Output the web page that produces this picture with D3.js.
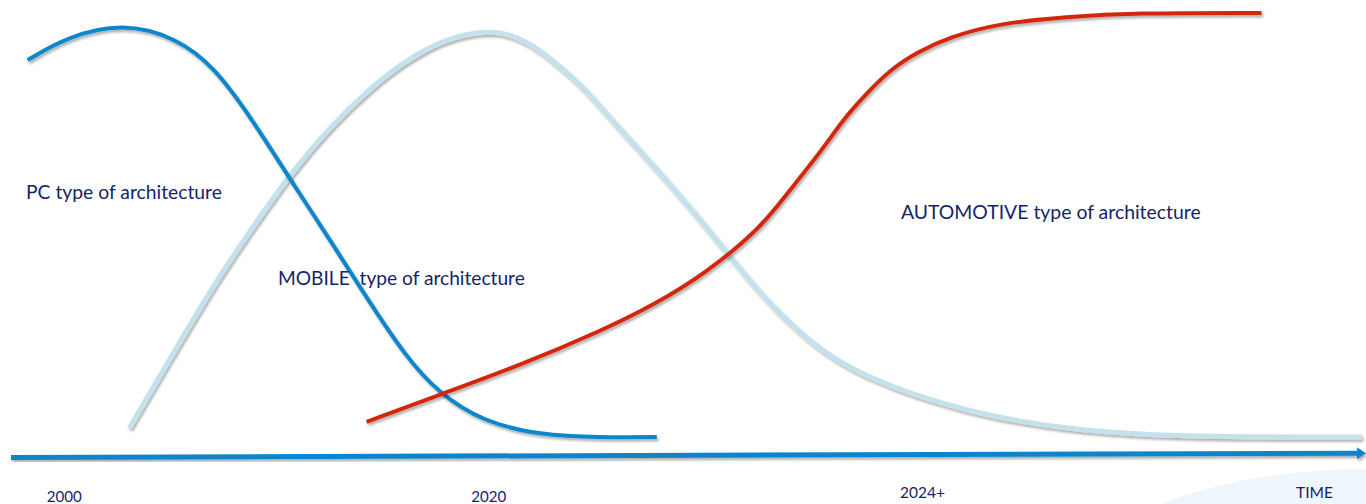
<!DOCTYPE html>
<html>
<head>
<meta charset="utf-8">
<script src="https://cdn.jsdelivr.net/npm/d3@7"></script>
<style>
  html, body { margin: 0; padding: 0; background: #ffffff; overflow: hidden; }
  svg { display: block; }
  text { font-family: Lato, "Open Sans", sans-serif; white-space: pre; }
</style>
</head>
<body>
<svg id="chart" width="1366" height="504"></svg>
<script>
// ---- data (time index 0..100, adoption 0..100) ----
const pcSeries = [
  [1.3, 89.2], [4.2, 94.4], [8.3, 97.6], [12.3, 94.2], [15.1, 87.6], [17.9, 75.7],
  [20.7, 62.2], [23.6, 48.8], [26.4, 35.3], [29.2, 22.5], [31.6, 14.4], [34.9, 7.9],
  [39.1, 4.9], [43.5, 4.4], [47.7, 4.5]
];
const mobileSeries = [
  [8.8, 6.5], [12.3, 24.7], [15.1, 39.1], [17.9, 51.7], [20.7, 63.8], [23.6, 74.2],
  [26.4, 82.5], [29.2, 89.2], [32.0, 93.7], [33.6, 95.0], [35.4, 95.7], [37.1, 94.9],
  [39.1, 91.5], [40.6, 87.6], [42.3, 83.1], [44.2, 76.4], [47.7, 64.7], [51.3, 52.1],
  [55.2, 36.9], [59.0, 25.6], [62.8, 18.0], [70.6, 9.9], [78.2, 6.1], [85.9, 4.5], [99.7, 4.5]
];
const autoSeries = [
  [26.3, 7.9], [31.6, 13.9], [37.7, 20.7], [43.7, 28.5], [47.5, 34.2], [51.3, 41.3],
  [55.2, 51.0], [57.1, 58.4], [60.0, 69.4], [61.4, 75.7], [63.2, 81.8], [64.9, 87.0],
  [66.9, 91.0], [69.3, 94.4], [73.0, 97.5], [77.9, 98.9], [82.8, 99.8], [92.3, 99.8]
];
const seriesNames = ["PC type of architecture", "MOBILE  type of architecture", "AUTOMOTIVE type of architecture"];
const tickLabels = ["2000", "2020", "2024+", "TIME"];
const tickValues = [4.0, 35.3, 67.3, 96.2];

// ---- layout ----
const W = 1366, H = 504;
const svg = d3.select("#chart");
const x = d3.scaleLinear().domain([0, 100]).range([10, 1366]);
const y = d3.scaleLinear().domain([0, 100]).range([457, 12]);

const defs = svg.append("defs");
const f = defs.append("filter").attr("id", "shadow")
  .attr("x", "-5%").attr("y", "-10%").attr("width", "110%").attr("height", "130%");
f.append("feDropShadow").attr("dx", 1.5).attr("dy", 2.5).attr("stdDeviation", 1.3)
  .attr("flood-color", "#000").attr("flood-opacity", 0.3);

// pale decorative blob bottom-right
svg.append("path")
  .attr("d", `M1160,${H} Q1250,470 ${W},469 L${W},${H} Z`)
  .attr("fill", "#eef6fc");

const line = d3.line().x(d => x(d[0])).y(d => y(d[1])).curve(d3.curveBasis);

const series = [
  { data: mobileSeries, color: "#c4e2eb", width: 5 },
  { data: pcSeries, color: "#0a86cc", width: 4 },
  { data: autoSeries, color: "#d4260f", width: 4 }
];
series.forEach(s => {
  svg.append("path").datum(s.data)
    .attr("d", line)
    .attr("fill", "none")
    .attr("stroke", s.color)
    .attr("stroke-width", s.width)
    .attr("filter", "url(#shadow)");
});

// time axis with arrow
const axisG = svg.append("g").attr("filter", "url(#shadow)");
axisG.append("line")
  .attr("x1", x(0) + 1).attr("y1", y(-0.1))
  .attr("x2", x(100) - 6).attr("y2", y(0.85))
  .attr("stroke", "#0a84cc").attr("stroke-width", 5);
axisG.append("path")
  .attr("d", `M${x(100) - 9},${y(0.85) - 6} L${x(100)},${y(0.85)} L${x(100) - 9},${y(0.85) + 6} Z`)
  .attr("fill", "#0a84cc");

// fit text helper
function fitText(sel, target) {
  const node = sel.node();
  const base = 20;
  sel.attr("font-size", base);
  const w = node.getComputedTextLength();
  sel.attr("font-size", base * target / w);
}

const textColor = "#15246a";
// tick labels
const tickLayout = [ { yb: 502, w: 35 }, { yb: 502, w: 35 }, { yb: 498, w: 45 }, { yb: 498, w: 37 } ];
tickLabels.forEach((t, i) => {
  const el = svg.append("text")
    .attr("x", x(tickValues[i])).attr("y", tickLayout[i].yb)
    .attr("text-anchor", "middle")
    .attr("fill", textColor)
    .text(t);
  fitText(el, tickLayout[i].w);
});

// series annotations
const labelLayout = [
  { t: 1.18, v: 58.0, w: 196 },
  { t: 19.76, v: 38.6, w: 247 },
  { t: 65.7, v: 53.5, w: 300 }
];
seriesNames.forEach((n, i) => {
  const el = svg.append("text")
    .attr("x", x(labelLayout[i].t)).attr("y", y(labelLayout[i].v))
    .attr("fill", textColor)
    .attr("xml:space", "preserve")
    .text(n);
  fitText(el, labelLayout[i].w);
});
</script>
</body>
</html>
